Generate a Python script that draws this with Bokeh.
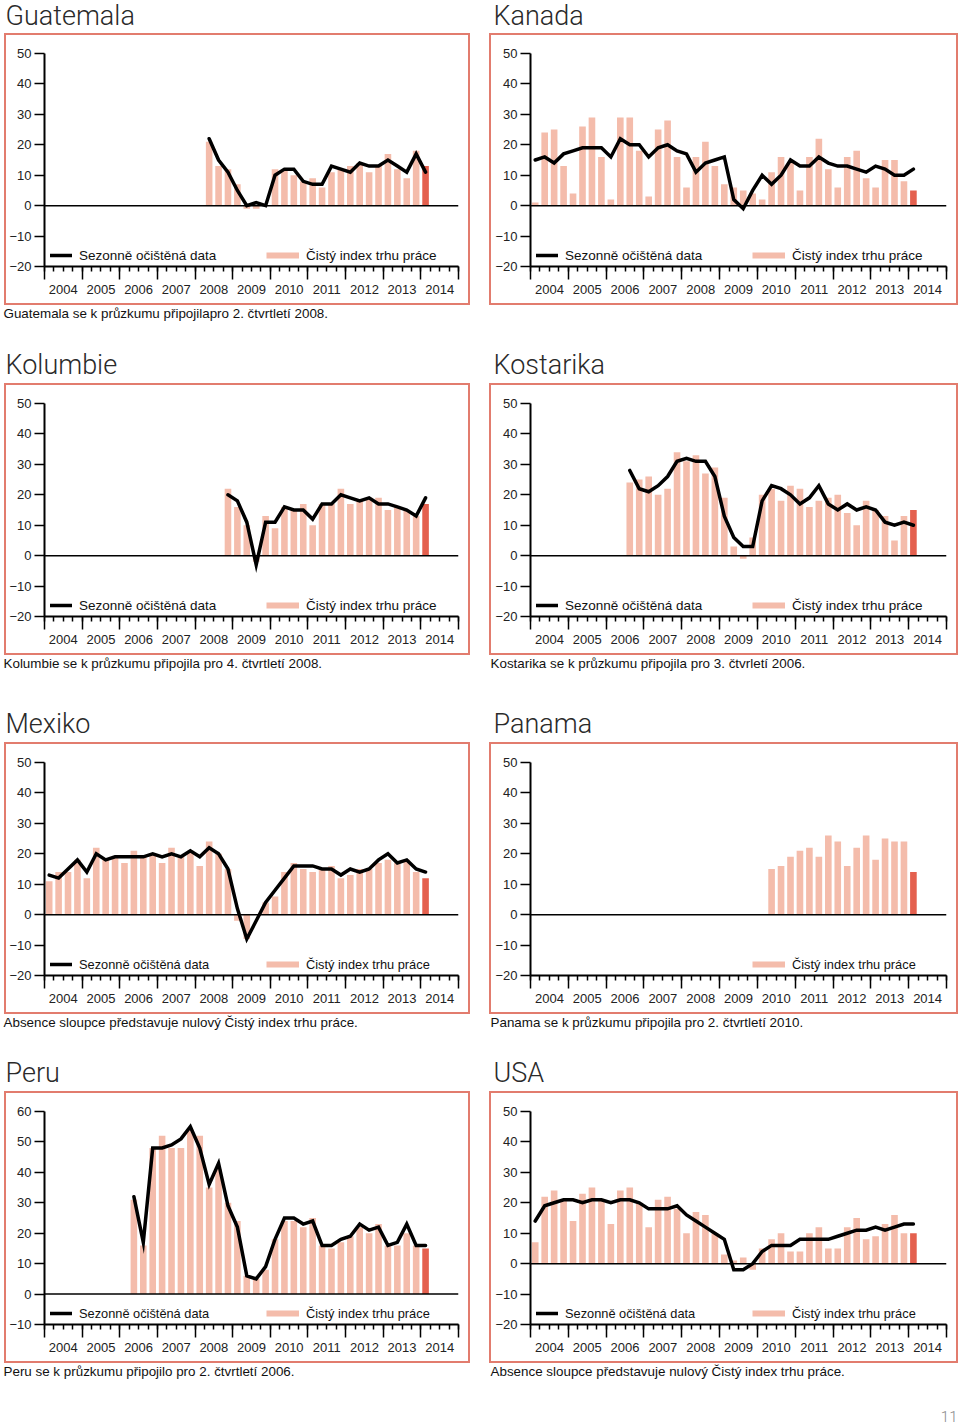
import numpy as np
from bokeh.plotting import figure
from bokeh.models import (Range1d, LinearAxis, FixedTicker, SingleIntervalTicker,
                          CustomJSTickFormatter, Span, Legend, LegendItem, ColumnDataSource,
                          Spacer)
from bokeh.layouts import column, row
from bokeh.embed import file_html
from bokeh.resources import INLINE
from bokeh.core.properties import value

# ---------------- data ----------------
year_labels = [str(y) for y in range(2004, 2015)]
legend_line_label = "Sezonně očištěná data"
legend_bar_label = "Čistý index trhu práce"

guatemala_start = "2008Q2"
guatemala_bars = [21, 13, 12, 7, -1, -1, 0, 12, 12, 10, 8, 9, 6, 11, 12, 13, 14, 11, 13, 17, 12, 9, 18, 13]
guatemala_line = [22, 15, 11, 5, 0, 1, 0, 10, 12, 12, 8, 7, 7, 13, 12, 11, 14, 13, 13, 15, 13, 11, 17, 11]

kanada_start = "2004Q1"
kanada_bars = [1, 24, 25, 13, 4, 26, 29, 16, 2, 29, 29, 18, 3, 25, 28, 16, 6, 16, 21, 13, 7,
               6, 5, 4, 2, 11, 16, 14, 5, 16, 22, 12, 6, 16, 18, 9, 6, 15, 15, 8, 5]
kanada_line = [15, 16, 14, 17, 18, 19, 19, 19, 16, 22, 20, 20, 16, 19, 20, 18, 17, 11, 14, 15, 16,
               2, -1, 5, 10, 7, 10, 15, 13, 13, 16, 14, 13, 13, 12, 11, 13, 12, 10, 10, 12]

kolumbie_start = "2008Q4"
kolumbie_bars = [22, 16, 10, -2, 13, 9, 16, 15, 17, 10, 17, 17, 22, 17, 18, 19, 19, 15, 16, 15, 13, 17]
kolumbie_line = [20, 18, 11, -3, 11, 11, 16, 15, 15, 12, 17, 17, 20, 19, 18, 19, 17, 17, 16, 15, 13, 19]

kostarika_start = "2006Q3"
kostarika_bars = [24, 25, 26, 20, 22, 34, 31, 33, 27, 29, 19, 3, -1, 6, 20, 22, 18, 23, 22, 16,
                  18, 19, 20, 14, 10, 18, 15, 13, 5, 13, 15]
kostarika_line = [28, 22, 21, 23, 26, 31, 32, 31, 31, 26, 13, 6, 3, 3, 18, 23, 22, 20, 17, 19,
                  23, 17, 15, 17, 15, 16, 15, 11, 10, 11, 10]

mexiko_start = "2004Q1"
mexiko_bars = [11, 14, 14, 18, 12, 22, 18, 19, 17, 21, 19, 20, 17, 22, 19, 21, 16, 24, 20, 15,
               -2, -8, 0, 4, 6, 14, 17, 15, 14, 15, 16, 12, 13, 15, 15, 17, 18, 17, 18, 14, 12]
mexiko_line = [13, 12, 15, 18, 14, 20, 18, 19, 19, 19, 19, 20, 19, 20, 19, 21, 19, 22, 20, 15,
               2, -8, -2, 4, 8, 12, 16, 16, 16, 15, 15, 13, 15, 14, 15, 18, 20, 17, 18, 15, 14]

panama_start = "2010Q2"
panama_bars = [15, 16, 19, 21, 22, 19, 26, 24, 16, 22, 26, 18, 25, 24, 24, 14]

peru_start = "2006Q2"
peru_bars = [31, 16, 48, 52, 48, 48, 54, 52, 35, 41, 30, 24, 6, 5, 8, 18, 24, 24, 22, 25,
             16, 15, 17, 19, 22, 20, 23, 16, 16, 20, 16, 15]
peru_line = [32, 17, 48, 48, 49, 51, 55, 48, 36, 43, 29, 22, 6, 5, 9, 18, 25, 25, 23, 24,
             16, 16, 18, 19, 23, 21, 22, 16, 17, 23, 16, 16]

usa_start = "2004Q1"
usa_bars = [7, 22, 24, 21, 14, 23, 25, 21, 13, 24, 25, 20, 12, 21, 22, 18, 10, 17, 16, 10,
            3, 1, 2, -2, 5, 8, 10, 4, 4, 10, 12, 5, 5, 12, 15, 8, 9, 13, 16, 10, 10]
usa_line = [14, 19, 20, 21, 21, 20, 21, 21, 20, 21, 21, 20, 18, 18, 18, 19, 16, 14, 12, 10,
            8, -2, -2, 0, 4, 6, 6, 6, 8, 8, 8, 8, 9, 10, 11, 11, 12, 11, 12, 13, 13]

ticks_std = [-20, -10, 0, 10, 20, 30, 40, 50]
ticks_peru = [-10, 0, 10, 20, 30, 40, 50, 60]

titles = ["Guatemala", "Kanada", "Kolumbie", "Kostarika", "Mexiko", "Panama", "Peru", "USA"]
notes = [
    ("Guatemala se k průzkumu připojilapro 2. čtvrtletí 2008.", ""),
    ("Kolumbie se k průzkumu připojila pro 4. čtvrtletí 2008.",
     "Kostarika se k průzkumu připojila pro 3. čtvrletí 2006."),
    ("Absence sloupce představuje nulový Čistý index trhu práce.",
     "Panama se k průzkumu připojila pro 2. čtvrtletí 2010."),
    ("Peru se k průzkumu připojilo pro 2. čtvrtletí 2006.",
     "Absence sloupce představuje nulový Čistý index trhu práce."),
]
page_number = "11"

# ---------------- style ----------------
BAR = "#F4BCAB"
RED = "#E4604E"
BORDER = "#E27C6E"
FONT = "Liberation Sans"
TFONT = "Roboto Light"
TOTAL_W = 958
BOX_H = 272      # outer height of a framed panel
BW = 2           # frame thickness


def qpos(start, n):
    y, q = start.split("Q")
    idx = (int(y) - 2004) * 4 + int(q) - 1
    return 2004 + (idx + np.arange(n) + 0.5) / 4.0


def edge(w, h):
    # one side of the salmon frame round a panel
    return Spacer(width=w, height=h, styles={"background-color": BORDER})


def panel(start, bars, line, yticks, width, left, legend_size):
    pw, ph = width - 2 * BW, BOX_H - 2 * BW
    p = figure(width=pw, height=ph, x_range=Range1d(2004, 2015),
               y_range=Range1d(yticks[0], yticks[-1]), title=None,
               x_axis_type=None, y_axis_type=None, toolbar_location=None,
               output_backend="svg", min_border_left=left, min_border_right=10,
               min_border_top=18, min_border_bottom=37, outline_line_color=None)

    yax = LinearAxis(ticker=FixedTicker(ticks=yticks), major_tick_out=10, major_tick_in=0,
                     minor_tick_line_color=None, axis_line_width=2, major_tick_line_width=1.5,
                     major_label_standoff=3, major_label_text_font_size="13px",
                     major_label_text_font=FONT, major_label_text_color="#222")
    p.add_layout(yax, "left")
    xa = LinearAxis(ticker=SingleIntervalTicker(interval=1, num_minor_ticks=4),
                    formatter=CustomJSTickFormatter(code="return ''"),
                    major_tick_out=13, major_tick_in=0, minor_tick_out=5, minor_tick_in=0,
                    axis_line_width=2, major_tick_line_width=1.5, minor_tick_line_width=1.5,
                    major_label_standoff=0, major_label_text_font_size="1px")
    p.add_layout(xa, "below")
    centers = [int(y) + 0.5 for y in year_labels]
    xb = LinearAxis(ticker=FixedTicker(ticks=centers),
                    formatter=CustomJSTickFormatter(code="return String(Math.floor(tick))"),
                    axis_line_color=None, major_tick_line_color=None, minor_tick_line_color=None,
                    major_tick_out=0, major_tick_in=0, major_label_standoff=5,
                    major_label_text_font_size="13px", major_label_text_font=FONT,
                    major_label_text_color="#222")
    p.add_layout(xb, "below")

    xs = qpos(start, len(bars))
    colors = [BAR] * (len(bars) - 1) + [RED]
    src = ColumnDataSource(dict(x=xs, top=bars, color=colors))
    p.vbar(x="x", top="top", bottom=0, width=0.7 / 4, fill_color="color",
           line_color=None, source=src)
    p.add_layout(Span(location=0, dimension="width", line_color="black", line_width=1.5))

    common = dict(padding=0, margin=0, spacing=0, border_line_color=None,
                  background_fill_alpha=0, label_text_font=FONT,
                  label_text_font_size=legend_size, label_text_color="#111",
                  label_height=16, glyph_height=16, label_standoff=7)
    if line is not None:
        lx = qpos(start, len(line))
        lr = p.line(lx, line, line_width=3.5, line_color="black", line_join="miter",
                    line_cap="round")
        leg1 = Legend(items=[LegendItem(label=legend_line_label, renderers=[lr])],
                      location=(6, 3), glyph_width=22, **common)
        p.add_layout(leg1)
    # legend key for the bars: a thin pink band, as in the original
    key = p.line(x=[np.nan], y=[np.nan], line_color=BAR, line_width=6)
    leg2 = Legend(items=[LegendItem(label=legend_bar_label, renderers=[key])],
                  location=(222, 3), glyph_width=33, **common)
    p.add_layout(leg2)

    inner = row(edge(BW, ph), p, edge(BW, ph))
    return column(edge(width, BW), inner, edge(width, BW))


def text_fig(h, items):
    f = figure(width=TOTAL_W, height=h, x_range=Range1d(0, TOTAL_W), y_range=Range1d(0, h),
               x_axis_type=None, y_axis_type=None, toolbar_location=None, title=None,
               output_backend="svg", min_border=0, outline_line_color=None)
    for (x, y, txt, size, font, color, baseline, align) in items:
        if txt:
            f.text(x=[x], y=[y], text=[txt], text_font=value(font), text_font_size=size,
                   text_color=color, text_baseline=baseline, text_align=align)
    return f


def title_item(x, y, txt):
    return (x, y, txt, "27px", TFONT, "#2a2a2a", "middle", "left")


def note_item(x, y, txt):
    return (x, y, txt, "13.4px", FONT, "#111", "middle", "left")


panels = [
    panel(guatemala_start, guatemala_bars, guatemala_line, ticks_std, 466, 37, "13.5px"),
    panel(kanada_start, kanada_bars, kanada_line, ticks_std, 469, 39, "13.5px"),
    panel(kolumbie_start, kolumbie_bars, kolumbie_line, ticks_std, 466, 37, "13.5px"),
    panel(kostarika_start, kostarika_bars, kostarika_line, ticks_std, 469, 39, "13.5px"),
    panel(mexiko_start, mexiko_bars, mexiko_line, ticks_std, 466, 37, "12.8px"),
    panel(panama_start, panama_bars, None, ticks_std, 469, 39, "12.8px"),
    panel(peru_start, peru_bars, peru_line, ticks_peru, 466, 37, "12.8px"),
    panel(usa_start, usa_bars, usa_line, ticks_std, 469, 39, "12.8px"),
]


def panel_row(a, b):
    return row(Spacer(width=4, height=BOX_H), a, Spacer(width=19, height=BOX_H), b)


# gaps between the rows: footnotes of the row above + titles of the row below
gap_heights = [78, 87, 77]

children = [text_fig(33, [title_item(5, 18, titles[0]), title_item(493, 18, titles[1])])]
for r in range(4):
    children.append(panel_row(panels[2 * r], panels[2 * r + 1]))
    if r < 3:
        h = gap_heights[r]
        children.append(text_fig(h, [
            note_item(3, h - 8, notes[r][0]),
            note_item(490, h - 8, notes[r][1]),
            title_item(5, 19, titles[2 * r + 2]),
            title_item(493, 19, titles[2 * r + 3]),
        ]))
    else:
        h = 63
        children.append(text_fig(h, [
            note_item(3, h - 8, notes[r][0]),
            note_item(490, h - 8, notes[r][1]),
            (957, 10, page_number, "15px", TFONT, "#8a8a8a", "middle", "right"),
        ]))

layout = column(*children, spacing=0)
open("out.html", "w").write(file_html(layout, INLINE))
